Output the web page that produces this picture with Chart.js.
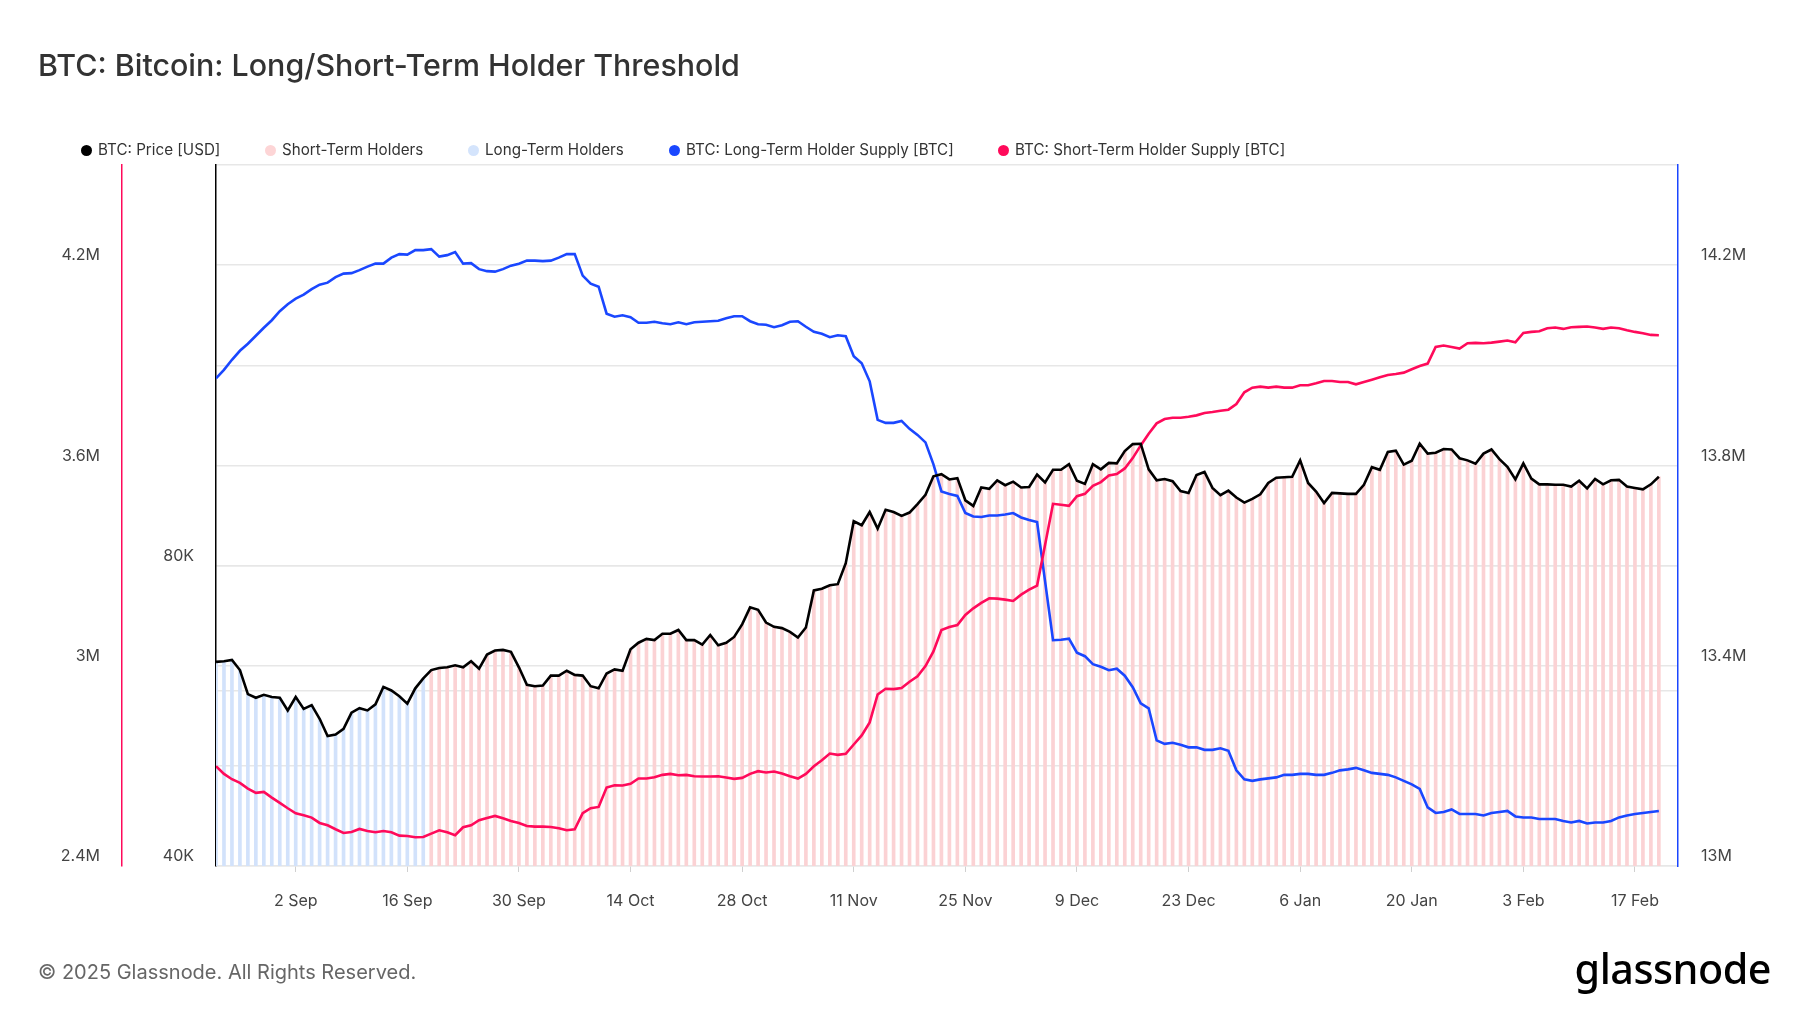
<!DOCTYPE html>
<html>
<head>
<meta charset="utf-8">
<title>BTC: Bitcoin: Long/Short-Term Holder Threshold</title>
<script src="https://cdn.jsdelivr.net/npm/chart.js"></script>
<style>
    html, body {
        margin: 0;
        padding: 0;
        background: #fff;
    }
    body {
        width: 1800px;
        height: 1013px;
        position: relative;
        overflow: hidden;
        font-family: Inter, "Noto Sans", sans-serif;
    }
    #title {
        position: absolute;
        left: 38px;
        top: 46px;
        font-size: 30.4px;
        line-height: 38px;
        font-weight: 500;
        color: #333;
    }
    .legend {
        position: absolute;
        top: 140px;
        line-height: 20px;
        font-size: 15.2px;
        color: #333;
        white-space: nowrap;
        display: flex;
        align-items: center;
    }
    .legend i {
        display: inline-block;
        width: 11px;
        height: 11px;
        border-radius: 50%;
        margin-right: 6px;
    }
    #wrap {
        position: absolute;
        left: 0;
        top: 0;
        width: 1800px;
        height: 1013px;
    }
    #footer {
        position: absolute;
        left: 38px;
        top: 960px;
        font-size: 20px;
        line-height: 24px;
        color: #666;
    }
    #logo {
        position: absolute;
        right: 29px;
        top: 944px;
        font-family: "Noto Sans", sans-serif;
        font-size: 41.3px;
        line-height: 48px;
        font-weight: 500;
        color: #000;
        letter-spacing: -0.5px;
    }
</style>
</head>
<body>
<div id="wrap"><canvas id="chart"></canvas></div>
<div id="title">BTC: Bitcoin: Long/Short-Term Holder Threshold</div>
<div class="legend" style="left:81px"><i style="background:#000"></i>BTC: Price [USD]</div>
<div class="legend" style="left:265px"><i style="background:#fdd5d6"></i>Short-Term Holders</div>
<div class="legend" style="left:468px"><i style="background:#d4e4fc"></i>Long-Term Holders</div>
<div class="legend" style="left:669px"><i style="background:#1a47ff"></i>BTC: Long-Term Holder Supply [BTC]</div>
<div class="legend" style="left:998px"><i style="background:#ff0a5a"></i>BTC: Short-Term Holder Supply [BTC]</div>
<div id="footer">© 2025 Glassnode. All Rights Reserved.</div>
<div id="logo">glassnode</div>

<script>
// daily values, 23 Aug 2024 .. 20 Feb 2025
const price = [
    64100, 64200, 64400, 62900, 59500, 59000, 59400, 59100, 59000, 57300,
    59100, 57500, 58000, 56200, 54000, 54200, 54900, 57000, 57600, 57300,
    58100, 60500, 60000, 59200, 58200, 60300, 61700, 62900, 63200, 63300,
    63600, 63300, 64200, 63100, 65200, 65800, 65900, 65600, 63300, 60800,
    60600, 60700, 62100, 62100, 62800, 62200, 62100, 60600, 60300, 62400,
    63000, 62800, 66000, 67000, 67600, 67400, 68400, 68400, 69000, 67400,
    67400, 66700, 68200, 66600, 67000, 67900, 69900, 72700, 72300, 70200,
    69500, 69300, 68700, 67800, 69400, 75600, 75900, 76500, 76700, 80500,
    88700, 87900, 90600, 87200, 91100, 90600, 89800, 90500, 92300, 94300,
    98400, 98900, 97700, 98000, 93100, 91900, 95900, 95600, 97500, 96400,
    97200, 95900, 96000, 98800, 97000, 99900, 99900, 101200, 97400, 96700,
    101200, 100000, 101500, 101400, 104300, 106000, 106100, 100000, 97500, 97800,
    97300, 95100, 94700, 98700, 99400, 95800, 94200, 95200, 93700, 92600,
    93400, 94400, 96900, 98100, 98200, 98300, 102100, 96900, 95000, 92500,
    94700, 94600, 94500, 94500, 96500, 100500, 99900, 104100, 104400, 101100,
    102000, 106100, 103700, 103900, 104800, 104700, 102600, 102100, 101300, 103700,
    104700, 102400, 100600, 97700, 101400, 97900, 96600, 96600, 96500, 96500,
    96100, 97400, 95700, 97800, 96600, 97500, 97600, 96100, 95800, 95500,
    96600, 98300
];

const lthSupply = [
    13974000, 13991000, 14011000, 14029000, 14043000, 14059000, 14075000, 14090000, 14108000, 14122000,
    14133000, 14141000, 14152000, 14161000, 14165000, 14176000, 14183000, 14184000, 14190000, 14197000,
    14203000, 14203000, 14215000, 14222000, 14221000, 14230000, 14230000, 14232000, 14217000, 14220000,
    14226000, 14203000, 14204000, 14192000, 14188000, 14187000, 14192000, 14199000, 14203000, 14209000,
    14209000, 14208000, 14209000, 14215000, 14222000, 14222000, 14179000, 14163000, 14157000, 14103000,
    14097000, 14100000, 14096000, 14085000, 14085000, 14087000, 14084000, 14082000, 14086000, 14082000,
    14086000, 14087000, 14088000, 14089000, 14094000, 14098000, 14098000, 14088000, 14082000, 14081000,
    14076000, 14080000, 14087000, 14088000, 14077000, 14067000, 14063000, 14056000, 14060000, 14058000,
    14018000, 14004000, 13968000, 13891000, 13885000, 13885000, 13889000, 13873000, 13861000, 13846000,
    13802000, 13748000, 13743000, 13739000, 13705000, 13698000, 13697000, 13700000, 13700000, 13702000,
    13705000, 13696000, 13691000, 13687000, 13569000, 13451000, 13452000, 13454000, 13426000, 13419000,
    13403000, 13398000, 13391000, 13394000, 13380000, 13357000, 13325000, 13315000, 13251000, 13244000,
    13246000, 13242000, 13237000, 13237000, 13232000, 13232000, 13235000, 13230000, 13191000, 13173000,
    13170000, 13173000, 13175000, 13177000, 13182000, 13182000, 13184000, 13184000, 13182000, 13182000,
    13186000, 13191000, 13193000, 13196000, 13191000, 13186000, 13184000, 13182000, 13177000, 13170000,
    13163000, 13154000, 13117000, 13106000, 13108000, 13113000, 13104000, 13104000, 13104000, 13101000,
    13106000, 13108000, 13110000, 13099000, 13097000, 13097000, 13094000, 13094000, 13094000, 13090000,
    13087000, 13090000, 13085000, 13087000, 13087000, 13090000, 13097000, 13101000, 13104000, 13106000,
    13108000, 13110000
];

const sthSupply = [
    2699000, 2676000, 2660000, 2649000, 2632000, 2619000, 2622000, 2605000, 2589000, 2573000,
    2558000, 2552000, 2545000, 2529000, 2522000, 2510000, 2499000, 2502000, 2511000, 2505000,
    2501000, 2505000, 2501000, 2491000, 2490000, 2486000, 2487000, 2497000, 2507000, 2501000,
    2492000, 2516000, 2522000, 2537000, 2544000, 2550000, 2543000, 2535000, 2529000, 2520000,
    2518000, 2518000, 2517000, 2513000, 2507000, 2510000, 2558000, 2573000, 2577000, 2635000,
    2642000, 2641000, 2646000, 2662000, 2662000, 2666000, 2673000, 2676000, 2672000, 2673000,
    2669000, 2668000, 2668000, 2669000, 2665000, 2661000, 2664000, 2676000, 2684000, 2680000,
    2683000, 2677000, 2669000, 2662000, 2676000, 2699000, 2717000, 2737000, 2733000, 2736000,
    2764000, 2791000, 2830000, 2914000, 2931000, 2930000, 2933000, 2952000, 2968000, 2999000,
    3043000, 3107000, 3116000, 3122000, 3152000, 3172000, 3188000, 3202000, 3201000, 3198000,
    3194000, 3213000, 3228000, 3240000, 3362000, 3485000, 3482000, 3479000, 3508000, 3515000,
    3539000, 3550000, 3570000, 3574000, 3591000, 3622000, 3660000, 3695000, 3726000, 3739000,
    3743000, 3743000, 3746000, 3750000, 3757000, 3760000, 3764000, 3767000, 3784000, 3819000,
    3833000, 3836000, 3833000, 3836000, 3833000, 3833000, 3840000, 3840000, 3846000, 3853000,
    3853000, 3850000, 3850000, 3843000, 3850000, 3857000, 3864000, 3871000, 3874000, 3878000,
    3888000, 3898000, 3905000, 3955000, 3959000, 3955000, 3950000, 3966000, 3967000, 3966000,
    3968000, 3971000, 3974000, 3969000, 3997000, 4000000, 4002000, 4011000, 4013000, 4009000,
    4014000, 4015000, 4016000, 4013000, 4009000, 4013000, 4011000, 4005000, 4000000, 3996000,
    3991000, 3990000
];

// number of leading days in the long-term holder regime, the rest are short-term
const lthRegimeDays = 27;

// x tick positions (day index from 23 Aug) and their labels
const tickDays = [10, 24, 38, 52, 66, 80, 94, 108, 122, 136, 150, 164, 178];
const tickLabels = ['2 Sep', '16 Sep', '30 Sep', '14 Oct', '28 Oct', '11 Nov', '25 Nov',
                    '9 Dec', '23 Dec', '6 Jan', '20 Jan', '3 Feb', '17 Feb'];

const priceTicks = [40000, 60000, 80000];

const days = price.map((_, i) => i);
const lthBars = price.map((v, i) => i < lthRegimeDays ? v : null);
const sthBars = price.map((v, i) => i >= lthRegimeDays ? v : null);

const tickFont = { family: 'Inter, "Noto Sans", sans-serif', size: 16 };
const tickColor = '#444';
const gridColor = '#e7e7e7';

function fmtM(v) {
    return parseFloat((v / 1e6).toFixed(1)) + 'M';
}

new Chart(document.getElementById('chart'), {
    data: {
        labels: days,
        datasets: [
            {
                type: 'line',
                label: 'BTC: Price [USD]',
                data: price,
                yAxisID: 'yPrice',
                borderColor: '#000',
                borderWidth: 2.6,
                pointRadius: 0,
                tension: 0,
                order: 0
            },
            {
                type: 'line',
                label: 'BTC: Short-Term Holder Supply [BTC]',
                data: sthSupply,
                yAxisID: 'ySth',
                borderColor: '#ff0a5a',
                borderWidth: 2.6,
                pointRadius: 0,
                tension: 0,
                order: 1
            },
            {
                type: 'line',
                label: 'BTC: Long-Term Holder Supply [BTC]',
                data: lthSupply,
                yAxisID: 'yLth',
                borderColor: '#1a47ff',
                borderWidth: 2.6,
                pointRadius: 0,
                tension: 0,
                order: 2
            },
            {
                type: 'bar',
                label: 'Short-Term Holders',
                data: sthBars,
                yAxisID: 'yPrice',
                backgroundColor: '#fbd2d4',
                barThickness: 3,
                grouped: false,
                order: 10
            },
            {
                type: 'bar',
                label: 'Long-Term Holders',
                data: lthBars,
                yAxisID: 'yPrice',
                backgroundColor: '#d2e2fb',
                barThickness: 3,
                grouped: false,
                order: 11
            }
        ]
    },
    options: {
        responsive: true,
        maintainAspectRatio: false,
        animation: false,
        layout: {
            padding: { top: 165, bottom: 87, left: 0, right: 0 }
        },
        plugins: {
            legend: { display: false },
            tooltip: { enabled: false }
        },
        scales: {
            x: {
                type: 'linear',
                offset: false,
                min: 0,
                max: 183.4,
                afterBuildTicks: (s) => { s.ticks = tickDays.map(v => ({ value: v })); },
                afterFit: (s) => { s.height = 60; },
                ticks: {
                    autoSkip: false,
                    maxRotation: 0,
                    padding: 20,
                    font: tickFont,
                    color: tickColor,
                    callback: (v) => {
                        const k = tickDays.indexOf(v);
                        return k >= 0 ? tickLabels[k] : '';
                    }
                },
                grid: {
                    offset: false,
                    drawOnChartArea: false,
                    drawTicks: true,
                    tickLength: 6,
                    color: '#d0d0d0'
                },
                border: { display: false }
            },
            ySth: {
                type: 'linear',
                position: 'left',
                weight: 2,
                min: 2400000,
                max: 4500000,
                afterFit: (s) => { s.width = 122; },
                ticks: {
                    stepSize: 300000,
                    padding: 22,
                    font: tickFont,
                    color: tickColor,
                    callback: (v) => {
                        const k = Math.round(v / 100000) - 24;
                        return k % 6 === 0 ? [fmtM(v), ''] : '';
                    }
                },
                grid: { color: gridColor, lineWidth: 1.5, drawTicks: false },
                border: { color: '#ff0a5a', width: 1.5 }
            },
            yPrice: {
                type: 'logarithmic',
                position: 'left',
                weight: 1,
                min: 40000,
                max: 202000,
                afterBuildTicks: (s) => { s.ticks = priceTicks.map(v => ({ value: v })); },
                afterFit: (s) => { s.width = 94; },
                ticks: {
                    padding: 22,
                    font: tickFont,
                    color: tickColor,
                    callback: (v) => (v === 40000 || v === 80000) ? [(v / 1000) + 'K', ''] : ''
                },
                grid: { color: gridColor, lineWidth: 1.5, drawTicks: false },
                border: { color: '#000', width: 1.5 }
            },
            yLth: {
                type: 'linear',
                position: 'right',
                min: 13000000,
                max: 14400000,
                afterFit: (s) => { s.width = 122; },
                ticks: {
                    stepSize: 200000,
                    padding: 23,
                    font: tickFont,
                    color: tickColor,
                    callback: (v) => {
                        const k = Math.round(v / 100000) - 130;
                        return k % 4 === 0 ? [fmtM(v), ''] : '';
                    }
                },
                grid: { display: false, drawTicks: false },
                border: { color: '#1a47ff', width: 1.5 }
            }
        }
    }
});
</script>
</body>
</html>
